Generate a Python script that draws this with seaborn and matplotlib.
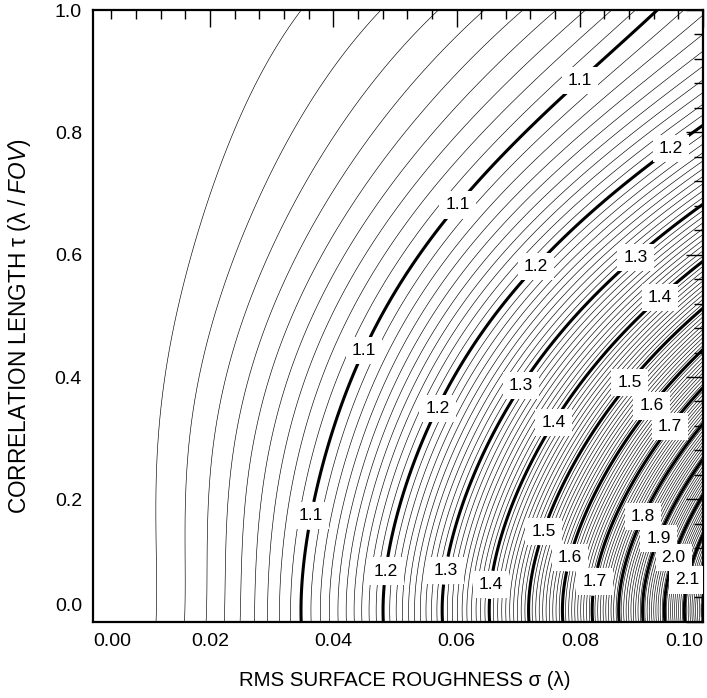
import numpy as np
import matplotlib
matplotlib.use("Agg")
import matplotlib.pyplot as plt
import seaborn as sns
from matplotlib.ticker import FixedLocator, FixedFormatter, MultipleLocator

# ---------------- data ----------------
thick_levels = [1.1, 1.2, 1.3, 1.4, 1.5, 1.6, 1.7, 1.8, 1.9, 2.0, 2.1, 2.2]
# sigma where each thick contour meets tau = 0
sigma_at_tau0 = [0.0347, 0.0482, 0.0578, 0.0653, 0.0718, 0.0773,
                 0.0822, 0.0864, 0.0901, 0.0937, 0.0970]
# horizontal stretch of the contours, sigma(tau) / sigma(0)
tau_pts = [0.0, 0.1, 0.2, 0.3, 0.4, 0.5, 0.6, 0.7, 0.8, 0.9, 1.0]
stretch_high = [1.0, 1.015, 1.06, 1.14, 1.235, 1.37, 1.56, 1.78, 2.03, 2.36, 2.66]
stretch_low = [1.0, 1.0, 1.005, 1.03, 1.11, 1.30, 1.52, 1.77, 2.12, 2.54, 3.10]
sigma_low_ref = 0.011      # tau=0 crossing of the 1.01 contour
thin_step = 0.01

x_tick_vals = [0.02, 0.04, 0.06, 0.08, 0.10]
x_tick_text = ["0.02", "0.04", "0.06", "0.08", "0.10"]
y_tick_vals = [0.0, 0.2, 0.4, 0.6, 0.8, 1.0]
y_tick_text = ["", "0.2", "0.4", "0.6", "0.8", "1.0"]

# contour label anchor points (sigma, tau)
label_spots = {
    1.1: [(0.0364, 0.173), (0.0443, 0.447), (0.0602, 0.681), (0.0804, 0.881)],
    1.2: [(0.0484, 0.083), (0.0565, 0.351), (0.0727, 0.583), (0.0946, 0.776)],
    1.3: [(0.0586, 0.083), (0.0703, 0.387), (0.0891, 0.595)],
    1.4: [(0.0658, 0.060), (0.0755, 0.327), (0.0930, 0.531)],
    1.5: [(0.0742, 0.147), (0.0885, 0.387)],
    1.6: [(0.0786, 0.104), (0.0922, 0.348)],
    1.7: [(0.0826, 0.065), (0.0955, 0.313)],
    1.8: [(0.0904, 0.171)],
    1.9: [(0.0930, 0.135)],
    2.0: [(0.0956, 0.104)],
    2.1: [(0.0976, 0.068)],
}

# ---------------- build the field from the read values ----------------
lvl = np.array(thick_levels[:len(sigma_at_tau0)])
s0 = np.array(sigma_at_tau0)
k = np.sum(np.log(lvl) * s0**2) / np.sum(s0**4)      # ln(level) ~ k * sigma0^2

c_hi = np.polyfit(tau_pts, stretch_high, 5)
c_lo = np.polyfit(tau_pts, stretch_low, 5)

sig = np.linspace(0.001, 0.1, 700)
tau = np.linspace(0.0, 1.0, 500)
sig0_fine = np.linspace(0.0, 0.115, 3000)
w = np.clip((sig0_fine - sigma_low_ref) / (s0[0] - sigma_low_ref), 0, 1)
val0 = np.exp(k * sig0_fine**2)
Z = np.empty((tau.size, sig.size))
for i, t in enumerate(tau):
    r = (1 - w) * np.polyval(c_lo, t) + w * np.polyval(c_hi, t)
    Z[i] = np.interp(sig, sig0_fine * r, val0)

thin_levels = [round(v, 2) for v in np.arange(1.01, 2.3, thin_step)
               if abs(v * 10 - round(v * 10)) > 1e-6]

# ---------------- plot ----------------
sns.set_theme(style="white")
plt.rcParams["font.family"] = ["Liberation Sans", "DejaVu Sans"]
plt.rcParams["text.color"] = "black"
plt.rcParams["mathtext.fontset"] = "custom"
plt.rcParams["mathtext.rm"] = "Liberation Sans"
plt.rcParams["mathtext.it"] = "Liberation Sans:italic"

fig = plt.figure(figsize=(7.07, 6.98), dpi=100)
ax = fig.add_axes([93 / 707, 1 - 621.7 / 698, 610 / 707, 611.7 / 698])

ax.contour(sig, tau, Z, levels=thin_levels, colors="black", linewidths=0.45)
for L in thick_levels:
    cs = ax.contour(sig, tau, Z, levels=[L], colors="black", linewidths=2.2)
    spots = label_spots.get(L)
    if spots:
        txts = ax.clabel(cs, manual=spots, inline=True, inline_spacing=2,
                         fmt="%.1f", fontsize=12.5, colors="black")
        for t in txts:
            t.set_rotation(0)
            t.set_bbox(dict(boxstyle="square,pad=0.35", fc="white", ec="none"))
            t.set_zorder(6)

ax.set_xlim(0.001, 0.1)
ax.set_ylim(0.0, 1.0)
ax.xaxis.set_major_locator(FixedLocator(x_tick_vals))
ax.xaxis.set_major_formatter(FixedFormatter(x_tick_text))
ax.xaxis.set_minor_locator(MultipleLocator(0.004))
ax.yaxis.set_major_locator(FixedLocator(y_tick_vals))
ax.yaxis.set_major_formatter(FixedFormatter(y_tick_text))
ax.yaxis.set_minor_locator(MultipleLocator(0.04))
ax.tick_params(which="both", direction="in", top=True, right=True,
               color="black", labelsize=14, labelcolor="black")
ax.tick_params(which="major", length=12, width=1.0, pad=8)
ax.tick_params(which="minor", length=6.5, width=1.0)
fig.canvas.draw()
xl = ax.get_xticklabels()
xl[-1].set_horizontalalignment("right")

# end labels kept inside the frame, as in the reference
ax.annotate("0.00", xy=(0.0, 0.0), xycoords="axes fraction", xytext=(0, -8),
            textcoords="offset points", ha="left", va="top", fontsize=14,
            color="black")
ax.annotate("0.0", xy=(0.0, 0.0), xycoords="axes fraction", xytext=(-8, 11),
            textcoords="offset points", ha="right", va="center", fontsize=14,
            color="black")

for s in ax.spines.values():
    s.set_linewidth(1.6)
    s.set_color("black")

ax.set_xlabel("RMS SURFACE ROUGHNESS σ (λ)", fontsize=14.7, color="black")
ax.set_ylabel("CORRELATION LENGTH τ (λ / $\\mathit{FOV}$)", fontsize=16.3,
              color="black")
ax.xaxis.set_label_coords(0.511, -0.08)
ax.yaxis.set_label_coords(-0.098, 0.483)

fig.savefig("out.png", dpi=100, facecolor="white")
